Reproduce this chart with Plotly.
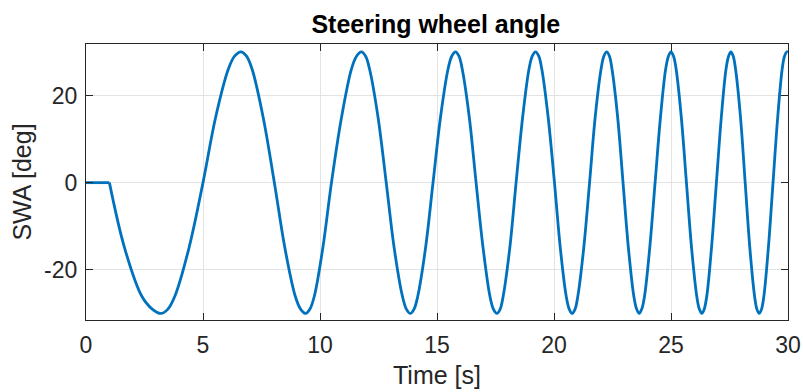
import plotly.graph_objects as go

# Steering input: hold at zero, then a sine sweep with rising frequency
t_hold = [0.0, 1.0]
swa_hold = [0.0, 0.0]

t_sweep = [
    1.00, 1.65, 2.38, 2.83, 3.20, 3.50, 3.80, 4.40, 5.00,
    5.54, 6.08, 6.35, 6.62, 6.86, 7.10, 7.57, 8.05,
    8.50, 8.94, 9.17, 9.39, 9.57, 9.76, 10.12, 10.49,
    10.92, 11.34, 11.56, 11.77, 11.95, 12.12, 12.48, 12.83,
    13.17, 13.52, 13.69, 13.86, 14.02, 14.18, 14.51, 14.83,
    15.15, 15.47, 15.63, 15.79, 15.94, 16.08, 16.38, 16.67,
    16.97, 17.26, 17.41, 17.56, 17.70, 17.83, 18.11, 18.38,
    18.66, 18.93, 19.07, 19.21, 19.35, 19.48, 19.75, 20.02,
    20.27, 20.52, 20.65, 20.77, 20.90, 21.02, 21.27, 21.52,
    21.76, 22.01, 22.13, 22.25, 22.37, 22.48, 22.72, 22.95,
    23.18, 23.41, 23.53, 23.64, 23.75, 23.87, 24.09, 24.32,
    24.55, 24.77, 24.89, 25.00, 25.11, 25.22, 25.44, 25.66,
    25.88, 26.10, 26.21, 26.32, 26.42, 26.53, 26.73, 26.94,
    27.15, 27.35, 27.46, 27.56, 27.66, 27.76, 27.97, 28.17,
    28.37, 28.57, 28.67, 28.77, 28.87, 28.97, 29.16, 29.36,
    29.56, 29.75, 29.85, 29.95, 30.00,
]
swa_sweep = [
    0, -15, -26, -29, -30, -29, -26, -15, 0,
    15, 26, 29, 30, 29, 26, 15, 0,
    -15, -26, -29, -30, -29, -26, -15, 0,
    15, 26, 29, 30, 29, 26, 15, 0,
    -15, -26, -29, -30, -29, -26, -15, 0,
    15, 26, 29, 30, 29, 26, 15, 0,
    -15, -26, -29, -30, -29, -26, -15, 0,
    15, 26, 29, 30, 29, 26, 15, 0,
    -15, -26, -29, -30, -29, -26, -15, 0,
    15, 26, 29, 30, 29, 26, 15, 0,
    -15, -26, -29, -30, -29, -26, -15, 0,
    15, 26, 29, 30, 29, 26, 15, 0,
    -15, -26, -29, -30, -29, -26, -15, 0,
    15, 26, 29, 30, 29, 26, 15, 0,
    -15, -26, -29, -30, -29, -26, -15, 0,
    15, 26, 29, 30, 29.95,
]

x_ticks = [0, 5, 10, 15, 20, 25, 30]
y_ticks = [-20, 0, 20]

LINE_COLOR = "#0072BD"
AXIS_COLOR = "#262626"
GRID_COLOR = "#e3e3e3"
FONT = "Liberation Sans, Arial, sans-serif"

fig = go.Figure()
fig.add_trace(go.Scatter(
    x=t_hold, y=swa_hold, mode="lines",
    line=dict(color=LINE_COLOR, width=2.8), showlegend=False,
))
fig.add_trace(go.Scatter(
    x=t_sweep, y=swa_sweep, mode="lines",
    line=dict(color=LINE_COLOR, width=2.8, shape="spline", smoothing=1.0),
    showlegend=False,
))

axis_common = dict(
    showline=True, linecolor=AXIS_COLOR, linewidth=1.2, mirror="ticks",
    ticks="inside", ticklen=7, tickwidth=1.2, tickcolor=AXIS_COLOR,
    showgrid=True, gridcolor=GRID_COLOR, gridwidth=1, zeroline=False,
    automargin=False,
    tickfont=dict(family=FONT, size=23, color=AXIS_COLOR),
)

fig.update_layout(
    width=803, height=392,
    margin=dict(l=86, r=15, t=44, b=72),
    paper_bgcolor="white", plot_bgcolor="white",
    title=dict(
        text="<b>Steering wheel angle</b>",
        x=0.5427, xanchor="center", y=1 - 24 / 392, yanchor="middle",
        yref="container",
        font=dict(family=FONT, size=25, color="black"),
    ),
    xaxis=dict(
        range=[0, 30], tickvals=x_ticks, ticktext=[str(v) for v in x_ticks],
        title=dict(text="Time [s]", standoff=9,
                   font=dict(family=FONT, size=25, color=AXIS_COLOR)),
        ticklabelstandoff=4,
        **axis_common,
    ),
    yaxis=dict(
        range=[-31.5, 31.8], tickvals=y_ticks, ticktext=[str(v) for v in y_ticks],
        title=dict(text="SWA [deg]", standoff=5,
                   font=dict(family=FONT, size=25, color=AXIS_COLOR)),
        ticklabelstandoff=3,
        **axis_common,
    ),
)

fig.write_html("out.html")
